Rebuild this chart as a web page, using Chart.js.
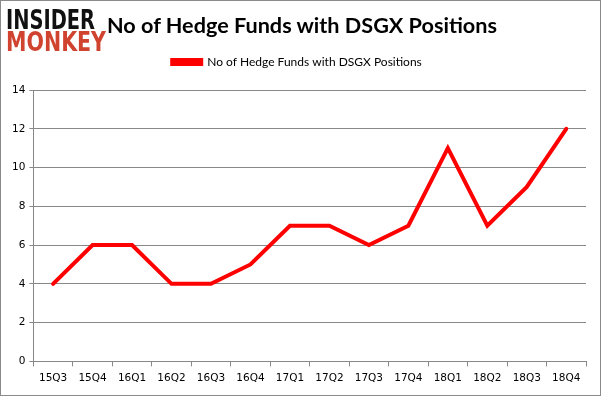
<!DOCTYPE html>
<html><head><meta charset="utf-8">
<script src="https://cdn.jsdelivr.net/npm/chart.js@4/dist/chart.umd.min.js"></script>
<style>
html,body{margin:0;padding:0;background:#fff;}
#wrap{position:relative;width:601px;height:396px;box-sizing:border-box;border:1px solid #8a8a8a;overflow:hidden;}
#logo{position:absolute;left:5px;top:8px;font-family:"DejaVu Sans",sans-serif;font-weight:900;}
#logo div{white-space:nowrap;transform-origin:0 0;display:block;width:max-content;font-size:26px;line-height:22px;}
#logo .a{color:#111;}
#logo .b{color:#d0432f;}
#title{position:absolute;left:106px;top:11px;font-family:"Lato",sans-serif;font-size:21px;font-weight:700;color:#000;white-space:nowrap;transform-origin:0 0;}
canvas{position:absolute;left:0;top:0;}
</style></head>
<body>
<div id="wrap">
<canvas id="c" width="599" height="394"></canvas>
<div id="logo"><div class="a" id="la">INSIDER</div><div class="b" id="lb">MONKEY</div></div>
<div id="title">No of Hedge Funds with DSGX Positions</div>
</div>
<script>
const categories = ["15Q3","15Q4","16Q1","16Q2","16Q3","16Q4","17Q1","17Q2","17Q3","17Q4","18Q1","18Q2","18Q3","18Q4"];
const hedgeFunds = [4,6,6,4,4,5,7,7,6,7,11,7,9,12];
const seriesName = "No of Hedge Funds with DSGX Positions";
const yTicks = [0,2,4,6,8,10,12,14];

function fitWidth(el, w){ const r = el.getBoundingClientRect().width; el.style.transform = 'scaleX(' + (w / r) + ')'; }
fitWidth(document.getElementById('la'), 89);
fitWidth(document.getElementById('lb'), 100);
fitWidth(document.getElementById('title'), 390);

const legendMargin = {
  id: 'legendMargin',
  beforeInit(chart) {
    const orig = chart.legend.fit;
    chart.legend.fit = function () { orig.bind(chart.legend)(); this.height += 12; };
  }
};

new Chart(document.getElementById('c'), {
  type: 'line',
  data: {
    labels: categories,
    datasets: [{
      label: seriesName,
      data: hedgeFunds,
      borderColor: '#ff0000',
      backgroundColor: '#ff0000',
      borderWidth: 4,
      pointRadius: 0,
      tension: 0,
      borderCapStyle: 'round'
    }]
  },
  plugins: [legendMargin],
  options: {
    responsive: false,
    animation: false,
    layout: { padding: { top: 37, right: 14, left: 7, bottom: 4 } },
    plugins: {
      legend: {
        display: true,
        labels: {
          boxWidth: 29, boxHeight: 4, padding: 18,
          font: { family: "Lato", size: 12 },
          color: '#000'
        }
      },
      title: { display: false },
      tooltip: { enabled: false }
    },
    scales: {
      x: {
        offset: true,
        grid: { offset: true, drawOnChartArea: false, color: '#888', tickLength: 5 },
        border: { color: '#888' },
        ticks: { color: '#000', font: { family: "DejaVu Sans", size: 10.5 }, padding: 6, maxRotation: 0 }
      },
      y: {
        min: 0, max: 14,
        afterBuildTicks: (s) => { s.ticks = yTicks.map(v => ({ value: v })); },
        grid: { color: '#888', tickLength: 4 },
        border: { color: '#888' },
        ticks: { color: '#000', font: { family: "DejaVu Sans", size: 10.5 }, padding: 4 }
      }
    }
  }
});
</script>
</body></html>
